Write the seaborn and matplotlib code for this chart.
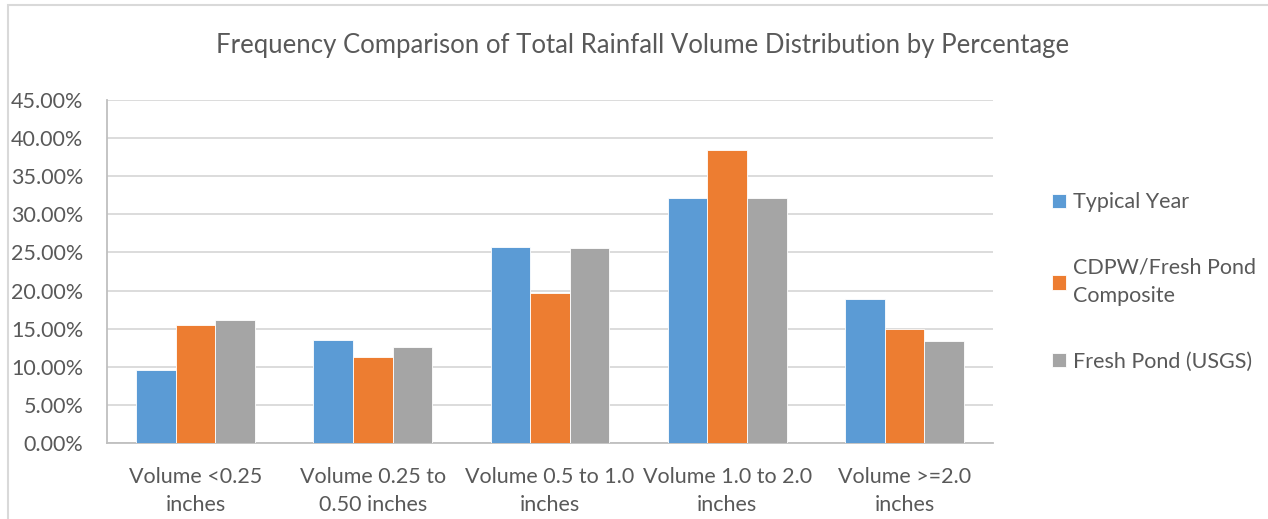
import seaborn as sns
import matplotlib.pyplot as plt
import pandas as pd
from matplotlib.patches import Rectangle
from matplotlib.ticker import FuncFormatter

categories = ["Volume <0.25\ninches", "Volume 0.25 to\n0.50 inches", "Volume 0.5 to 1.0\ninches",
              "Volume 1.0 to 2.0\ninches", "Volume >=2.0\ninches"]
series = ["Typical Year", "CDPW/Fresh Pond\nComposite", "Fresh Pond (USGS)"]
typical_year = [9.6, 13.45, 25.7, 32.2, 18.95]
composite = [15.5, 11.3, 19.7, 38.4, 14.9]
usgs = [16.1, 12.6, 25.55, 32.2, 13.4]
colors = ["#5B9BD5", "#ED7D31", "#A5A5A5"]

df = pd.DataFrame({
    "category": categories * 3,
    "series": [series[0]] * 5 + [series[1]] * 5 + [series[2]] * 5,
    "value": typical_year + composite + usgs,
})

sns.set_style("white")
plt.rcParams['font.family'] = ['Lato', 'DejaVu Sans']
txt = "#595959"
fs = 15.5

fig = plt.figure(figsize=(12.68, 5.19), dpi=100)
ax = fig.add_axes([107 / 1268, 76 / 519, 886 / 1268, 343 / 519])

sns.barplot(data=df, x="category", y="value", hue="series", palette=colors,
            width=0.67, saturation=1, edgecolor="white", linewidth=0.6, ax=ax, zorder=3)

ax.set_xlim(-0.5, 4.5)
ax.set_ylim(0, 45)
ax.set_yticks(range(0, 46, 5))
ax.yaxis.set_major_formatter(FuncFormatter(lambda v, p: f"{v:.2f}%"))
ax.grid(axis="y", color="#d9d9d9", linewidth=1.3, zorder=0)
ax.set_axisbelow(True)
for s in ["top", "right"]:
    ax.spines[s].set_visible(False)
ax.spines["left"].set_color("#bfbfbf")
ax.spines["bottom"].set_color("#bfbfbf")
ax.spines["left"].set_linewidth(1.3)
ax.spines["bottom"].set_linewidth(1.3)
ax.tick_params(axis="both", length=0, labelsize=fs, colors=txt)
ax.tick_params(axis="x", pad=17)
ax.tick_params(axis="y", pad=17)
for lab in ax.get_xticklabels():
    lab.set_linespacing(1.55)
ax.set_xlabel("")
ax.set_ylabel("")

fig.suptitle("Frequency Comparison of Total Rainfall Volume Distribution by Percentage",
             x=643 / 1268, y=1 - 45 / 519, va="center", fontsize=18.5, color=txt)

leg = ax.legend(loc="upper left", bbox_to_anchor=(1033 / 1268, 1 - 173 / 519),
                bbox_transform=fig.transFigure, frameon=False, fontsize=fs,
                handlelength=0.65, handleheight=0.65, handletextpad=0.3, labelspacing=2.1)
for t in leg.get_texts():
    t.set_color(txt)
    t.set_linespacing(1.55)

fig.patches.append(Rectangle((8 / 1268, -0.1), 1.2, 1.1 - 5 / 519, transform=fig.transFigure,
                             fill=False, edgecolor="#d9d9d9", linewidth=1.5))

fig.savefig("out.png", dpi=100)
